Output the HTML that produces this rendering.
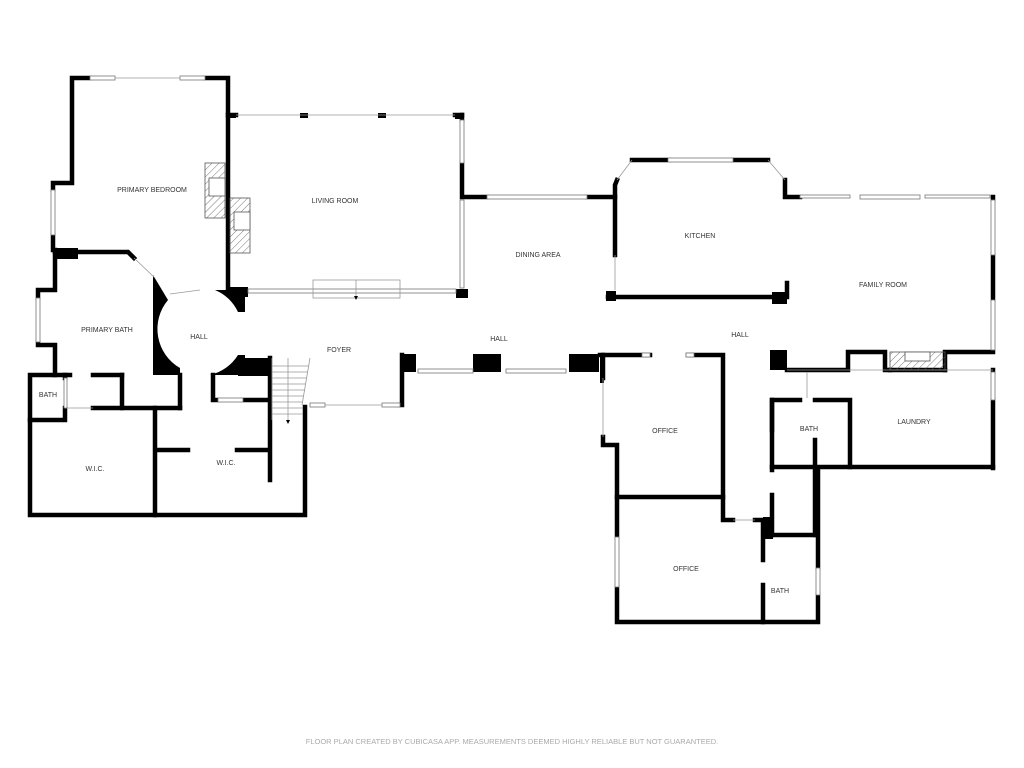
<!DOCTYPE html>
<html><head><meta charset="utf-8"><style>
html,body{margin:0;padding:0;background:#fff;width:1024px;height:768px;overflow:hidden}
svg text{font-family:"Liberation Sans",sans-serif;font-size:7px;fill:#333;text-anchor:middle}
</style></head><body>
<svg width="1024" height="768" viewBox="0 0 1024 768" xmlns="http://www.w3.org/2000/svg">
<defs><pattern id="h" width="5" height="5" patternUnits="userSpaceOnUse" patternTransform="rotate(45)"><line x1="0" y1="0" x2="0" y2="5" stroke="#555" stroke-width="0.8"/></pattern></defs>
<g fill="none" stroke="#000" stroke-width="4.5" stroke-linecap="square">
<polyline points="90,78 72,78 72,183 53,183 53,190"/>
<polyline points="205,78 228,78 228,290"/>
<line x1="53" y1="235" x2="53" y2="250"/>
<polyline points="55,250 55,290 38,290 38,298"/>
<polyline points="38,342 38,345 55,345 55,375"/>
<polyline points="55,252 128,252 134,258"/>
<polyline points="70,375 30,375 30,515 305,515 305,407"/>
<line x1="155" y1="408" x2="155" y2="515"/>
<polyline points="65,375 65,378"/>
<polyline points="30,420 65,420 65,408"/>
<line x1="93" y1="408" x2="180" y2="408"/>
<line x1="180" y1="375" x2="180" y2="408"/>
<line x1="122" y1="375" x2="122" y2="408"/>
<line x1="93" y1="375" x2="122" y2="375"/>
<line x1="158" y1="450" x2="188" y2="450"/>
<line x1="237" y1="450" x2="268" y2="450"/>
<line x1="270" y1="358" x2="270" y2="480"/>
<polyline points="213,375 213,400 218,400"/>
<line x1="243" y1="400" x2="268" y2="400"/>
<line x1="228" y1="115" x2="236" y2="115"/>
<line x1="455" y1="115" x2="462" y2="115"/>
<polyline points="462,115 462,120"/>
<polyline points="462,163 462,197 487,197"/>
<line x1="587" y1="197" x2="615" y2="197"/>
<polyline points="615,255 615,185 617,180"/>
<polyline points="632,160 668,160"/>
<polyline points="733,160 768,160"/>
<polyline points="785,180 785,197 800,197"/>
<polyline points="608,297 787,297 787,283"/>
<line x1="993" y1="197" x2="993" y2="200"/>
<line x1="993" y1="255" x2="993" y2="300"/>
<line x1="993" y1="370" x2="993" y2="372"/>
<line x1="993" y1="400" x2="993" y2="468"/>
<polyline points="787,370 848,370 848,352 885,352 885,370 890,370"/>
<polyline points="945,370 945,352 993,352"/>
<line x1="890" y1="370" x2="945" y2="370"/>
<polyline points="772,430 772,400 800,400"/>
<polyline points="815,400 850,400 850,467"/>
<polyline points="772,467 993,467"/>
<line x1="772" y1="400" x2="772" y2="470"/>
<line x1="815" y1="440" x2="815" y2="535"/>
<line x1="772" y1="495" x2="772" y2="535"/>
<line x1="772" y1="535" x2="815" y2="535"/>
<polyline points="600,355 650,355"/>
<polyline points="688,355 723,355 723,520 733,520"/>
<polyline points="603,355 603,378"/>
<polyline points="603,437 603,445 617,445 617,537"/>
<line x1="617" y1="497" x2="723" y2="497"/>
<polyline points="617,587 617,622 818,622 818,595"/>
<line x1="818" y1="568" x2="818" y2="470"/>
<polyline points="763,585 763,622"/>
<polyline points="763,560 763,520 755,520"/>
<polyline points="402,355 402,405 400,405"/>
</g>
<g fill="#000">
<rect x="228" y="113" width="8" height="5"/><rect x="300" y="113" width="8" height="5"/><rect x="378" y="113" width="8" height="5"/><rect x="455" y="113" width="9" height="6"/>
<rect x="55" y="248" width="23" height="11"/>
<rect x="456" y="289" width="12" height="9"/>
<rect x="228" y="287" width="20" height="10"/>
<rect x="402" y="354" width="14" height="18"/>
<rect x="473" y="354" width="28" height="18"/>
<rect x="569" y="354" width="30" height="18"/>
<rect x="600" y="355" width="4" height="28"/>
<rect x="606" y="291" width="10" height="10"/>
<rect x="772" y="292" width="15" height="12"/>
<rect x="770" y="350" width="17" height="20"/>
<rect x="763" y="517" width="10" height="22"/>
<rect x="238" y="358" width="34" height="18"/>
<path d="M153,275 L153,375 L180,375 L180,368 A45,45 0 0 1 168,300 Z"/>
<path d="M228,290 L245,290 L245,312 L238,312 A45,45 0 0 0 215,290 Z"/>
<path d="M238,355 L245,355 L245,375 L210,375 A45,45 0 0 0 238,355 Z"/>
</g>
<g fill="#fff" stroke="#777" stroke-width="0.8">
<rect x="90" y="76" width="25" height="4"/><rect x="180" y="76" width="25" height="4"/>
<rect x="51" y="190" width="4" height="45"/><rect x="36" y="298" width="4" height="44"/>
<rect x="460" y="120" width="4" height="43"/><rect x="460" y="200" width="4" height="88"/>
<rect x="487" y="195" width="100" height="4"/>
<rect x="668" y="158" width="65" height="4"/>
<rect x="800" y="195" width="50" height="3"/><rect x="860" y="195" width="60" height="4"/><rect x="925" y="195" width="65" height="3"/>
<rect x="991" y="200" width="4" height="55"/><rect x="991" y="300" width="4" height="50"/><rect x="991" y="372" width="4" height="28"/>
<rect x="418" y="369" width="55" height="4"/><rect x="506" y="369" width="60" height="4"/>
<rect x="310" y="403" width="15" height="4"/><rect x="382" y="403" width="18" height="4"/>
<rect x="642" y="353" width="8" height="4"/><rect x="686" y="353" width="8" height="4"/>
<rect x="615" y="537" width="4" height="50"/><rect x="816" y="568" width="4" height="27"/>
<rect x="248" y="289" width="208" height="4"/>
<rect x="218" y="398" width="25" height="4"/>
<rect x="64" y="378" width="3" height="30"/>
</g>
<g fill="url(#h)" stroke="#555" stroke-width="0.8">
<rect x="205" y="163" width="20" height="55"/>
<rect x="230" y="198" width="20" height="55"/>
<rect x="890" y="352" width="55" height="18"/>
</g>
<g fill="#fff" stroke="#555" stroke-width="0.8">
<rect x="209" y="178" width="16" height="18"/>
<rect x="234" y="212" width="16" height="18"/>
<rect x="905" y="352" width="25" height="9"/>
</g>
<g fill="none" stroke="#999" stroke-width="0.8">
<line x1="236" y1="115" x2="455" y2="115"/>
<line x1="115" y1="78" x2="180" y2="78"/>
<line x1="325" y1="405" x2="382" y2="405"/>
<line x1="617" y1="180" x2="632" y2="160"/><line x1="768" y1="160" x2="785" y2="180"/>
<line x1="134" y1="258" x2="155" y2="278"/>
<line x1="170" y1="294" x2="200" y2="290"/>
<rect x="313" y="280" width="87" height="18"/>
<line x1="356" y1="280" x2="356" y2="298"/>
<line x1="615" y1="255" x2="615" y2="290"/>
<line x1="603" y1="378" x2="603" y2="437"/>
<line x1="733" y1="520" x2="755" y2="520"/>
<line x1="807" y1="372" x2="807" y2="398"/>
<line x1="787" y1="370" x2="993" y2="370"/>
<line x1="65" y1="408" x2="93" y2="408"/>
<line x1="272" y1="358" x2="272" y2="420"/>
<line x1="310" y1="358" x2="302" y2="405"/>
<line x1="272" y1="366" x2="309" y2="366"/><line x1="272" y1="372" x2="308" y2="372"/>
<line x1="272" y1="378" x2="307" y2="378"/><line x1="272" y1="384" x2="306" y2="384"/>
<line x1="272" y1="390" x2="305" y2="390"/><line x1="272" y1="396" x2="304" y2="396"/>
<line x1="272" y1="402" x2="303" y2="402"/><line x1="272" y1="408" x2="303" y2="408"/>
<line x1="272" y1="414" x2="303" y2="414"/>
<line x1="288" y1="358" x2="288" y2="420"/>
</g>
<polygon points="354,296 358,296 356,300" fill="#000"/>
<polygon points="286,420 290,420 288,424" fill="#000"/>
<g>
<text x="152" y="192">PRIMARY BEDROOM</text>
<text x="335" y="203">LIVING ROOM</text>
<text x="538" y="257">DINING AREA</text>
<text x="700" y="238">KITCHEN</text>
<text x="883" y="287">FAMILY ROOM</text>
<text x="107" y="332">PRIMARY BATH</text>
<text x="199" y="339">HALL</text>
<text x="339" y="352">FOYER</text>
<text x="499" y="341">HALL</text>
<text x="740" y="337">HALL</text>
<text x="48" y="397">BATH</text>
<text x="665" y="433">OFFICE</text>
<text x="809" y="431">BATH</text>
<text x="914" y="424">LAUNDRY</text>
<text x="95" y="471">W.I.C.</text>
<text x="226" y="465">W.I.C.</text>
<text x="686" y="571">OFFICE</text>
<text x="780" y="593">BATH</text>
<text x="512" y="744" style="fill:#aaa;font-size:7.5px">FLOOR PLAN CREATED BY CUBICASA APP. MEASUREMENTS DEEMED HIGHLY RELIABLE BUT NOT GUARANTEED.</text>
</g>
</svg>
</body></html>
